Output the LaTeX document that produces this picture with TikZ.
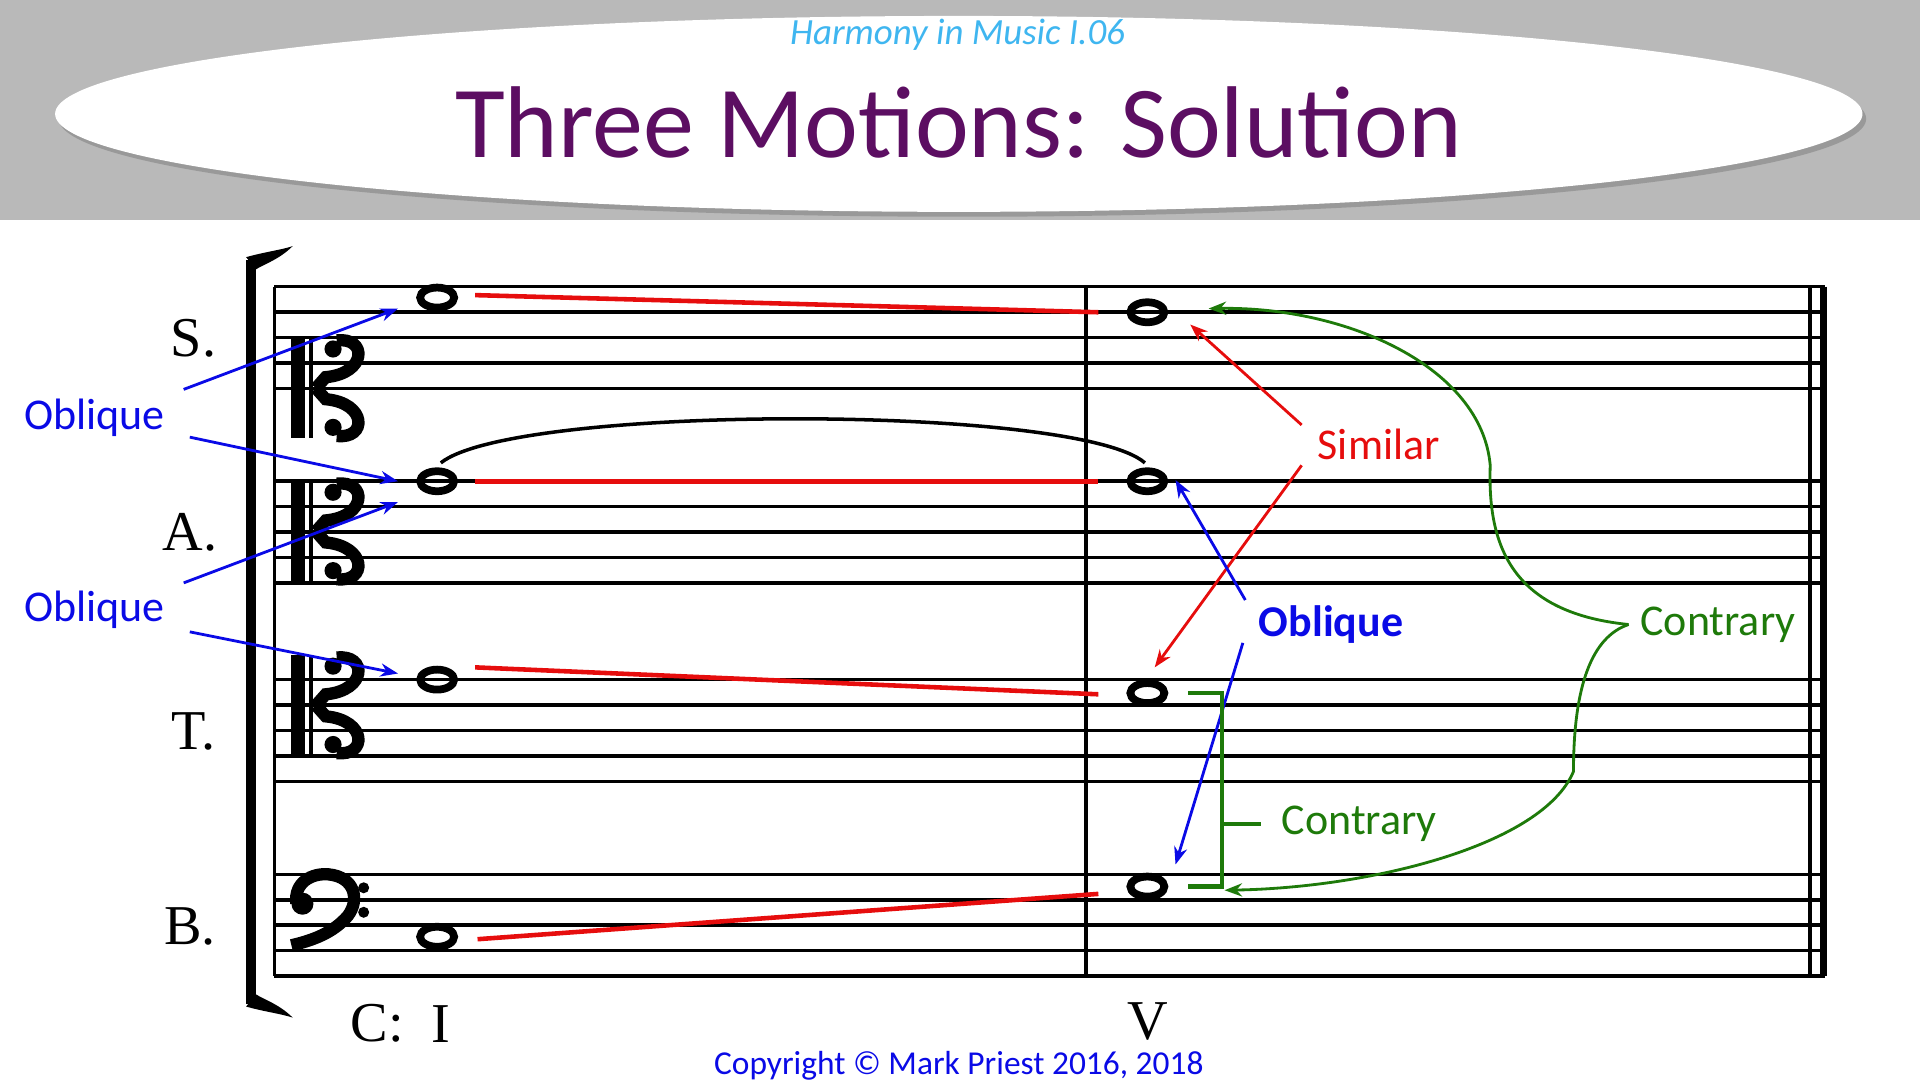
\documentclass[tikz,border=0pt]{standalone}
\usepackage{fontspec}
\setmainfont{Liberation Serif}
\newfontfamily\slidefont{Carlito}
\usetikzlibrary{arrows.meta}
\definecolor{titlepurple}{HTML}{5C0E62}
\definecolor{subblue}{HTML}{3FB6F0}
\definecolor{obblue}{HTML}{0A0AE6}
\definecolor{simred}{HTML}{E60D0D}
\definecolor{congreen}{HTML}{1E7A0A}
% C clef centred on the line at height #1
\newcommand{\drawcclef}[1]{%
  \fill (238,#1-41) rectangle (249,#1+41);
  \fill (252,#1-41) rectangle (256,#1+41);
  \draw[line width=3.5pt] (258,#1) -- (266,#1-9) .. controls (300,#1-12) and (300,#1-42) .. (275,#1-39);
  \fill (272,#1-32) circle (7);
  \draw[line width=3.5pt] (258,#1) -- (266,#1+9) .. controls (300,#1+12) and (300,#1+42) .. (275,#1+39);
  \fill (272,#1+32) circle (7);
}
\tikzset{
  staffline/.style={line width=1pt},
  wholenote/.style={ellipse, draw, line width=2.2pt, minimum width=0.34cm, minimum height=0.2cm, inner sep=0pt},
  voicelabel/.style={font=\fontsize{16}{18}\selectfont},
  motionlabel/.style={font=\slidefont\fontsize{12.5}{14}\selectfont},
  obarrow/.style={obblue, line width=0.8pt, -{Stealth[length=5pt]}},
  simarrow/.style={simred, line width=0.8pt, -{Stealth[length=5pt]}},
  conarrow/.style={congreen, line width=0.8pt, -{Stealth[length=5pt]}},
  motionline/.style={simred, line width=1.3pt}
}
\usetikzlibrary{shapes.geometric}
\begin{document}
\begin{tikzpicture}[x=0.012245cm, y=-0.012245cm]
  \useasboundingbox (0,0) rectangle (1568,882);
  % Title banner
  \fill[gray!55] (0,0) rectangle (1568,180);
  \fill[gray!80] (786,97) ellipse (738 and 80);
  \fill[white] (783,93) ellipse (738 and 80);
  \node[text=subblue, font=\slidefont\itshape\fontsize{10.5}{12}\selectfont] (subtitle) at (782,28) {Harmony in Music I.06};
  \node[text=titlepurple, font=\slidefont\fontsize{29}{32}\selectfont] (title) at (783,100) {Three Motions: Solution};
  % Staves
  \foreach \top in {234,393,555,714}{
    \foreach \k in {0,...,4}{
      \draw[staffline] (224,\top+\k*20.8) -- (1490,\top+\k*20.8);
    }
  }
  \draw[staffline] (224,234) -- (224,797);
  \draw[staffline] (887,234) -- (887,797);
  \draw[staffline] (1478,234) -- (1478,797);
  \draw[line width=2pt] (1489,234) -- (1489,797);
  % Bracket
  \draw[line width=3pt] (205,212) -- (205,820);
  \fill (201,210) .. controls (215,206) and (230,204) .. (239,201) .. controls (228,212) and (215,216) .. (209,220) -- cycle;
  \fill (201,822) .. controls (215,826) and (230,828) .. (239,831) .. controls (228,820) and (215,816) .. (209,812) -- cycle;
  % Clefs
  \drawcclef{317}
  \drawcclef{434}
  \drawcclef{576}
  \fill (247,738) circle (9);
  \draw[line width=3.5pt] (242,738) .. controls (240,720) and (255,713) .. (268,714)
    .. controls (290,716) and (294,735) .. (284,748) .. controls (272,762) and (255,768) .. (238,772);
  \fill (297,725) circle (4.5);
  \fill (297,745) circle (4.5);
  % Voice names
  \node[voicelabel] (sname) at (158,276) {S.};
  \node[voicelabel] (aname) at (155,435) {A.};
  \node[voicelabel] (tname) at (158,597) {T.};
  \node[voicelabel] (bname) at (155,757) {B.};
  % Notes
  \node[wholenote] (s1) at (357,243) {};
  \node[wholenote] (a1) at (357,393) {};
  \node[wholenote] (t1) at (357,555) {};
  \node[wholenote] (b1) at (357,765) {};
  \node[wholenote] (s2) at (937,255) {};
  \node[wholenote] (a2) at (937,393) {};
  \node[wholenote] (t2) at (937,566) {};
  \node[wholenote] (b2) at (937,724) {};
  % Tie
  \draw[line width=1pt] (360,378) .. controls (420,330) and (880,330) .. (935,378);
  % Voice-leading lines
  \draw[motionline] (388,241) -- (897,255);
  \draw[motionline] (388,393) -- (897,393);
  \draw[motionline] (388,545) -- (897,567);
  \draw[motionline] (390,767) -- (897,730);
  % Chord symbols
  \node[voicelabel] (key) at (308,836) {C:};
  \node[voicelabel] (chordI) at (360,836) {I};
  \node[voicelabel] (chordV) at (937,834) {V};
  % Oblique (left)
  \node[motionlabel, text=obblue] (obl1) at (77,341) {Oblique};
  \node[motionlabel, text=obblue] (obl2) at (77,498) {Oblique};
  \draw[obarrow] (150,318) -- (325,252);
  \draw[obarrow] (155,357) -- (325,393);
  \draw[obarrow] (150,476) -- (325,410);
  \draw[obarrow] (155,516) -- (325,550);
  % Similar
  \node[motionlabel, text=simred] (sim) at (1126,363) {Similar};
  \draw[simarrow] (1063,347) -- (972,265);
  \draw[simarrow] (1063,380) -- (943,545);
  % Oblique (right)
  \node[motionlabel, text=obblue, font=\slidefont\bfseries\fontsize{12.5}{14}\selectfont] (obl3) at (1087,510) {Oblique};
  \draw[obarrow] (1017,490) -- (960,392);
  \draw[obarrow] (1015,525) -- (960,706);
  % Contrary (outer voices)
  \node[motionlabel, text=congreen] (con1) at (1403,510) {Contrary};
  \draw[conarrow] (1330,510) .. controls (1230,500) and (1215,440) .. (1217,380)
    .. controls (1210,300) and (1100,250) .. (987,252);
  \draw[conarrow] (1330,510) .. controls (1300,520) and (1285,560) .. (1285,630)
    .. controls (1260,690) and (1120,725) .. (1000,727);
  % Contrary (tenor and bass)
  \node[motionlabel, text=congreen] (con2) at (1110,673) {Contrary};
  \draw[congreen, line width=1.2pt] (970,566) -- (998,566) -- (998,724) -- (970,724);
  \draw[congreen, line width=1.2pt] (998,673) -- (1030,673);
  % Copyright
  \node[text=obblue, font=\slidefont\fontsize{9.5}{10}\selectfont] (copy) at (783,870) {Copyright © Mark Priest 2016, 2018};
\end{tikzpicture}
\end{document}
